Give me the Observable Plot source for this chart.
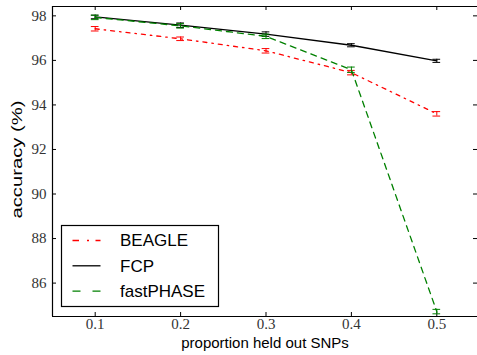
<!DOCTYPE html>
<html><head><meta charset="utf-8">
<script src="https://cdn.jsdelivr.net/npm/d3@7"></script>
<script src="https://cdn.jsdelivr.net/npm/@observablehq/plot@0.6"></script>
<style>body{margin:0;background:#fff}#chart{width:477px;height:355px}</style>
</head><body><div id="chart"></div>
<script>
const proportions = [0.1, 0.2, 0.3, 0.4, 0.5];
const seriesNames = ["BEAGLE", "FCP", "fastPHASE"];
const beagle = [97.42, 96.97, 96.43, 95.45, 93.60];
const beagleErr = [0.10, 0.08, 0.10, 0.10, 0.10];
const fcp = [97.95, 97.58, 97.18, 96.68, 95.98];
const fcpErr = [0.08, 0.10, 0.10, 0.07, 0.07];
const fastphase = [97.93, 97.55, 97.08, 95.58, 84.72];
const fastphaseErr = [0.10, 0.10, 0.10, 0.12, 0.10];
const xTicks = [0.1, 0.2, 0.3, 0.4, 0.5];
const yTicks = [86, 88, 90, 92, 94, 96, 98];
const xLabel = "proportion held out SNPs";
const yLabel = "accuracy (%)";
const colors = ["#ff0000", "#000000", "#008000"];
const dashes = ["4,5,1.5,5", "none", "6,5"];
const legendDashes = ["6.5,8,2,6.5", "none", "8,12"];

const values = [beagle, fcp, fastphase];
const errs = [beagleErr, fcpErr, fastphaseErr];
const rows = seriesNames.flatMap((s, i) => proportions.map((p, j) => ({
  series: s, i, x: p, y: values[i][j], lo: values[i][j] - errs[i][j], hi: values[i][j] + errs[i][j]
})));
const xDom = [0.05, 0.55], yDom = [84.5, 98.42];
const capHalf = 0.0045;
const serif = "'Liberation Serif', 'DejaVu Serif', serif";
const sans = "'Liberation Sans', Arial, sans-serif";

const lineMarks = seriesNames.flatMap((s, i) => {
  const d = rows.filter(r => r.series === s);
  return [
    Plot.line(d, {x: "x", y: "y", stroke: colors[i], strokeWidth: 1.3, strokeDasharray: dashes[i]}),
    Plot.ruleX(d, {x: "x", y1: "lo", y2: "hi", stroke: colors[i], strokeWidth: 1}),
    Plot.ruleY(d, {y: "lo", x1: r => r.x - capHalf, x2: r => r.x + capHalf, stroke: colors[i], strokeWidth: 1}),
    Plot.ruleY(d, {y: "hi", x1: r => r.x - capHalf, x2: r => r.x + capHalf, stroke: colors[i], strokeWidth: 1})
  ];
});

const svg = Plot.plot({
  width: 477, height: 355,
  marginLeft: 52, marginRight: 0, marginTop: 6, marginBottom: 39,
  style: {background: "#fff", overflow: "visible", fontFamily: serif},
  x: {domain: xDom, range: [52, 479]},
  y: {domain: yDom},
  marks: [
    Plot.axisX(xTicks, {tickSize: 0, tickPadding: 2, fontFamily: serif, fontSize: 15, fill: "#333", tickFormat: d => d.toFixed(1), label: null}),
    Plot.axisY(yTicks, {tickSize: 0, tickPadding: 6, fontFamily: serif, fontSize: 15, fill: "#333", tickFormat: d => String(d), label: null}),
    Plot.tickX(xTicks, {x: d => d, insetTop: 306, stroke: "#000"}),
    Plot.tickX(xTicks, {x: d => d, insetBottom: 306, stroke: "#000"}),
    Plot.tickY(yTicks, {y: d => d, insetRight: 421, stroke: "#000"}),
    Plot.tickY(yTicks, {y: d => d, insetLeft: 421, stroke: "#000"}),
    ...lineMarks,
    Plot.ruleX([xDom[0]], {stroke: "#000", strokeWidth: 1.2}),
    Plot.ruleY(yDom, {stroke: "#000", strokeWidth: 1.2}),
    Plot.text([xLabel], {text: d => d, frameAnchor: "bottom", dy: 31, fontFamily: sans, fontSize: 15, fill: "#000"}),
    Plot.text([yLabel], {text: d => d, frameAnchor: "left", dx: -35, dy: 57, textAnchor: "start", rotate: -90, fontFamily: sans, fontSize: 15, fill: "#000"})
  ]
});

const s = d3.select(svg);
s.selectAll("text").filter(function() { return this.textContent === yLabel; })
  .attr("textLength", 118).attr("lengthAdjust", "spacingAndGlyphs");

// legend
const lg = s.append("g").attr("text-anchor", "start");
lg.append("rect").attr("x", 61.5).attr("y", 225.5).attr("width", 157).attr("height", 81)
  .attr("fill", "#fff").attr("stroke", "#000").attr("stroke-width", 1.2);
seriesNames.forEach((name, i) => {
  const cy = 240.5 + i * 25.3;
  lg.append("line").attr("x1", 72.5).attr("x2", 100.5).attr("y1", cy).attr("y2", cy)
    .attr("stroke", colors[i]).attr("stroke-width", 1.3).attr("stroke-dasharray", legendDashes[i]);
  lg.append("text").attr("x", 120).attr("y", cy).attr("dy", "0.35em").attr("text-anchor", "start")
    .attr("font-family", sans).attr("font-size", 17).attr("fill", "#000").text(name);
});

document.getElementById("chart").appendChild(svg);
</script>
</body></html>
